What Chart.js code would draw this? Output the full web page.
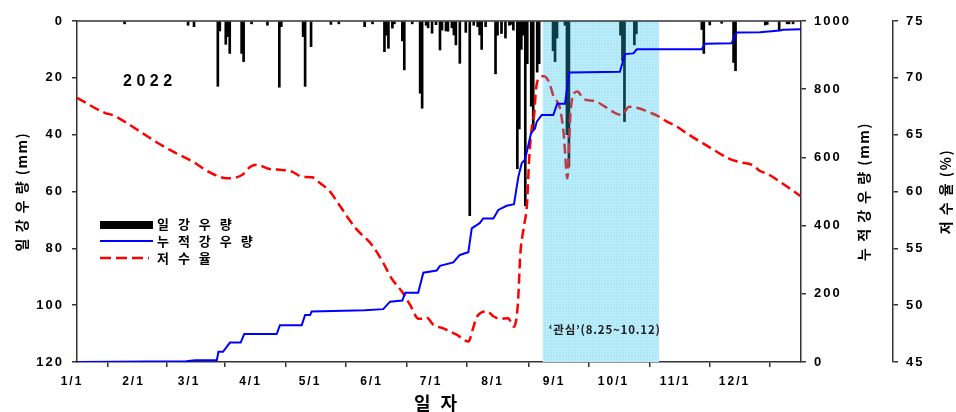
<!DOCTYPE html>
<html>
<head>
<meta charset="utf-8">
<script src="https://cdn.jsdelivr.net/npm/chart.js@4.4.1/dist/chart.umd.min.js"></script>
<style>
  body { margin: 0; background: #fff; }
  #wrap { width: 956px; height: 412px; }
</style>
</head>
<body>
<div id="wrap"><canvas id="rain_chart" width="956" height="412"></canvas></div>
<script>
/* DATA : x = day of year (0 = 1/1) */
const month_days = [0, 31, 59, 90, 120, 151, 181, 212, 243, 273, 304, 334];
const month_labels = ["1/1", "2/1", "3/1", "4/1", "5/1", "6/1", "7/1", "8/1", "9/1", "10/1", "11/1", "12/1"];

// 일 강우량 (mm)
const rain_days = [24, 56, 59, 71, 72, 75, 76, 77, 83, 84, 88, 96, 102, 103, 114, 115, 118, 128, 132, 145,
  149, 155, 156, 157, 159, 160, 164, 165, 169, 173, 174, 176, 177, 179, 181, 183, 184, 186, 187, 189,
  190, 191, 193, 196, 198, 200, 202, 203, 204, 206, 211, 212, 214, 216, 218, 219, 220, 222, 223, 224,
  225, 226, 227, 229, 230, 232, 233, 240, 241, 242, 246, 247, 248, 274, 275, 276, 281, 282, 315, 316,
  319, 325, 331, 332, 347, 348, 354, 358, 359, 361];
const rain_mm = [1.0, 1.5, 2.0, 23.0, 3.5, 8.2, 5.5, 11.4, 11.4, 14.3, 1.0, 1.5, 23.3, 2.0, 5.5, 23.0, 9.0, 1.2, 1.0, 2.0,
  1.0, 10.8, 5.0, 9.6, 2.5, 1.0, 7.0, 17.2, 1.0, 25.4, 30.7, 1.5, 2.4, 4.3, 1.3, 10.2, 3.2, 3.5, 3.6, 2.4,
  4.9, 8.4, 14.9, 4.0, 68.5, 1.5, 2.0, 4.9, 10.0, 2.0, 18.6, 5.0, 4.4, 6.0, 1.5, 1.2, 3.2, 52.0, 38.0, 10.0,
  5.0, 65.0, 15.0, 30.0, 38.0, 18.0, 15.0, 10.5, 14.3, 6.0, 1.5, 40.0, 51.3, 5.0, 14.0, 35.4, 8.4, 4.5, 3.0, 11.4,
  1.4, 0.8, 14.6, 17.5, 1.4, 1.2, 3.2, 1.0, 1.0, 1.0];

// 누적강우량 (mm)
const cum_days = [0, 55, 59.5, 70.5, 71.3, 73.6, 77.1, 82.5, 84.3, 100.7, 102.3, 113.3, 115, 117.5, 118.3, 145, 154.4, 157.8, 164, 165.5,
  172, 174.6, 181.3, 183, 189.7, 193, 197.3, 199, 203, 204.8, 209.9, 212.4, 216.6, 220.3, 222.5, 224.2, 225.9, 228.9, 230.9, 231.8,
  234.3, 240.1, 242.1, 246, 248.2, 273.7, 276.3, 280.5, 282.2, 314.9, 316.6, 330, 332.6, 344.3, 354.4, 356, 365];
const cum_mm = [0, 2, 5, 5, 30, 30, 57, 57, 82, 82, 108, 108, 138, 138, 148, 152, 155, 177, 180, 203,
  203, 262, 268, 282, 292, 314, 322, 392, 407, 421, 421, 446, 458, 463, 543, 583, 594, 671, 685, 705,
  724, 724, 757, 757, 849, 851, 903, 905, 917, 917, 933, 935, 966, 967, 972, 974, 976];

// 저수율 (%)
const res_days = [0, 14.3, 17.6, 31.1, 39.5, 48.5, 59.6, 64.7, 69.7, 75.6, 83.2, 87.4, 90.7, 96.6, 103.3, 108.4, 113.4, 118.5, 122.5, 127.5,
  131.9, 140.3, 148.7, 153.8, 158.8, 163.8, 168, 172.2, 174.7, 176.4, 179.5, 184.7, 191.4, 197.4, 199.4, 201.7, 206.7, 210.1, 213.2, 217.3,
  220.3, 222.3, 223.5, 225.1, 226.9, 228, 229.4, 230.5, 231.4, 233.1, 235.3, 237.8, 240.2, 243.5, 245.4, 247.2, 248.7, 250.4, 252.3, 255.3,
  261.1, 266.3, 271.4, 274.8, 278.3, 283.2, 288.2, 293.3, 297.4, 302.5, 308.4, 316.9, 328.7, 333.7, 340.9, 344.3, 347.6, 354.9, 364.7];
const res_pct = [68.25, 66.9, 66.75, 65.35, 64.4, 63.5, 62.5, 61.9, 61.45, 61.16, 61.45, 62.18, 62.35, 62.0, 61.9, 61.75, 61.3, 61.25, 60.75, 60.0,
  58.9, 56.8, 55.3, 53.9, 52.3, 51.2, 50.0, 48.8, 48.8, 48.9, 48.3, 47.95, 47.4, 46.8, 47.8, 49.0, 49.45, 49.0, 48.8, 48.85,
  48.1, 50.2, 54.5, 56.7, 59.0, 63.0, 65.8, 66.8, 69.0, 70.0, 70.15, 69.7, 68.4, 67.3, 65.0, 61.16, 66.7, 68.6, 68.8, 68.15,
  67.95, 67.45, 66.9, 66.73, 67.45, 67.32, 67.0, 66.6, 66.15, 65.7, 65.0, 64.1, 62.9, 62.6, 62.3, 61.8, 61.6, 60.8, 59.6];

// '관심' 구간
const band_start = 234.8;
const band_end = 293.4;
const band_text = "‘관심’(8.25~10.12)";
const year_text = "2022";

const legend_texts = ["일 강 우 량", "누 적 강 우 량", "저 수 율"];

/* STYLE */
const KR = '"Noto Sans CJK KR", "Noto Sans", sans-serif';
const NUM = '"Liberation Sans", Arial, sans-serif';
const AXIS_COLOR = '#333';

function to_points(xs, ys) {
  return xs.map((v, i) => ({ x: v, y: ys[i] }));
}

function draw_text(ctx, txt, x, y, font, opt = {}) {
  ctx.save();
  ctx.font = font;
  ctx.letterSpacing = (opt.sp || 0) + 'px';
  ctx.fillStyle = opt.color || '#000';
  ctx.textAlign = opt.align || 'left';
  ctx.textBaseline = opt.base || 'middle';
  ctx.translate(x, y);
  if (opt.rot) ctx.rotate(opt.rot);
  ctx.fillText(txt, 0, 0);
  ctx.restore();
}

// fine mesh fill for the band
function mesh_pattern(ctx, base, line) {
  const c = document.createElement('canvas');
  c.width = 3; c.height = 3;
  const g = c.getContext('2d');
  g.fillStyle = base; g.fillRect(0, 0, 3, 3);
  g.fillStyle = line; g.fillRect(0, 0, 3, 1); g.fillRect(0, 0, 1, 3);
  return ctx.createPattern(c, 'repeat');
}

/* PLUGINS */
const spacing_plugin = {
  id: 'spacing_plugin',
  beforeUpdate(chart) { chart.ctx.letterSpacing = '2px'; },
  beforeDraw(chart) { chart.ctx.letterSpacing = '2px'; }
};

const band_plugin = {
  id: 'band_plugin',
  beforeDatasetsDraw(chart) {
    const { ctx, chartArea: a, scales: { x } } = chart;
    const x0 = x.getPixelForValue(band_start), x1 = x.getPixelForValue(band_end);
    ctx.save();
    ctx.fillStyle = mesh_pattern(ctx, '#e8f3fb', '#fcfeff');
    ctx.fillRect(x0, a.top, x1 - x0, a.bottom - a.top);
    ctx.restore();
  },
  afterDatasetDraw(chart, args) {
    // tint the band over rainfall bars and reservoir line (blue line stays on top)
    if (args.index !== 2) return;
    const { ctx, chartArea: a, scales: { x } } = chart;
    const x0 = x.getPixelForValue(band_start), x1 = x.getPixelForValue(band_end);
    ctx.save();
    ctx.fillStyle = 'rgba(40,200,240,0.3)';
    ctx.fillRect(x0, a.top, x1 - x0, a.bottom - a.top);
    ctx.restore();
  }
};

const deco_plugin = {
  id: 'deco_plugin',
  afterDraw(chart) {
    const { ctx, chartArea: a, scales } = chart;
    const mid_y = (a.top + a.bottom) / 2;

    // top frame line
    ctx.save();
    ctx.strokeStyle = AXIS_COLOR;
    ctx.lineWidth = 1.5;
    ctx.beginPath();
    ctx.moveTo(a.left, a.top);
    ctx.lineTo(a.right, a.top);
    ctx.stroke();
    ctx.restore();

    // axis titles
    const title_font = 'bold 14px ' + KR;
    draw_text(ctx, "일 강 우 량 (mm)", 22, mid_y, title_font, { align: 'center', rot: -Math.PI / 2, sp: 1.5 });
    draw_text(ctx, "누 적 강 우 량 (mm)", 864, mid_y, title_font, { align: 'center', rot: -Math.PI / 2, sp: 1.5 });
    draw_text(ctx, "저 수 율 (%)", 946, mid_y, title_font, { align: 'center', rot: -Math.PI / 2, sp: 1.5 });
    draw_text(ctx, "일 자", (a.left + a.right) / 2 - 2, 403, 'bold 18px ' + KR, { align: 'center', sp: 3 });

    // year and band label
    draw_text(ctx, year_text, 123, 86, 'bold 16px ' + NUM, { sp: 4.5, base: 'alphabetic' });
    const bx = scales.x.getPixelForValue(band_start);
    draw_text(ctx, band_text, bx + 6, 330, 'bold 11.5px ' + KR, { color: '#222', sp: 0.8 });

    // legend
    ctx.save();
    ctx.fillStyle = '#000';
    ctx.fillRect(100, 221, 53, 8);
    ctx.lineWidth = 2;
    ctx.strokeStyle = '#0000ff';
    ctx.beginPath(); ctx.moveTo(100, 241); ctx.lineTo(153, 241); ctx.stroke();
    ctx.lineWidth = 2.5;
    ctx.strokeStyle = '#ff0000';
    ctx.setLineDash([11, 5]);
    ctx.beginPath(); ctx.moveTo(100, 258); ctx.lineTo(149, 258); ctx.stroke();
    ctx.restore();
    legend_texts.forEach((t, i) => {
      draw_text(ctx, t, 157, 224 + i * 17, 'bold 13px ' + KR, { sp: 3 });
    });
  }
};

/* CHART SETTING */
const tick_font = { family: NUM, weight: 'bold', size: 13 };
const axis_grid = { drawOnChartArea: false, drawTicks: true, tickLength: 5, color: AXIS_COLOR, lineWidth: 1.5 };
const axis_border = { display: true, color: AXIS_COLOR, width: 1.5 };
const plain_num = (v) => String(v);

const chart_dom = document.getElementById('rain_chart').getContext('2d');

const rainChart = new Chart(chart_dom, {
  type: 'bar',
  data: {
    datasets: [
      { // 일 강우량
        type: 'bar',
        data: to_points(rain_days, rain_mm),
        backgroundColor: '#000',
        borderWidth: 0,
        barThickness: 2,
        yAxisID: 'yRain',
        order: 3
      },
      { // 누적강우량
        type: 'line',
        data: to_points(cum_days, cum_mm),
        borderColor: '#0000ff',
        borderWidth: 2,
        pointRadius: 0,
        tension: 0,
        fill: false,
        yAxisID: 'yCum',
        order: 1
      },
      { // 저수율
        type: 'line',
        data: to_points(res_days, res_pct),
        borderColor: '#ff0000',
        borderWidth: 2.5,
        borderDash: [10, 5],
        pointRadius: 0,
        cubicInterpolationMode: 'monotone',
        fill: false,
        yAxisID: 'yRes',
        order: 2
      }
    ]
  },
  options: {
    responsive: false,
    animation: false,
    devicePixelRatio: 1,
    layout: { padding: { top: 21, left: 0, right: 0, bottom: 0 } },
    plugins: { legend: { display: false }, tooltip: { enabled: false } },
    scales: {
      x: {
        type: 'linear',
        min: 0,
        max: 365,
        offset: false,
        grid: axis_grid,
        border: axis_border,
        afterBuildTicks: (s) => { s.ticks = month_days.map(v => ({ value: v })); },
        afterFit: (s) => { s.height = 50; },
        ticks: {
          autoSkip: false,
          maxRotation: 0,
          padding: 7,
          labelOffset: -5,
          color: '#000',
          font: { family: NUM, weight: 'bold', size: 12 },
          callback: (v, i) => month_labels[i]
        }
      },
      yRain: {
        position: 'left',
        reverse: true,
        min: 0,
        max: 120,
        grid: axis_grid,
        border: axis_border,
        afterFit: (s) => { s.width = 77; },
        ticks: { stepSize: 20, padding: 8, color: '#000', font: tick_font, callback: plain_num }
      },
      yCum: {
        position: 'right',
        min: 0,
        max: 1000,
        grid: axis_grid,
        border: axis_border,
        afterFit: (s) => { s.width = 92; },
        ticks: { stepSize: 200, padding: 8, color: '#000', font: tick_font, callback: plain_num }
      },
      yRes: {
        position: 'right',
        min: 45,
        max: 75,
        grid: axis_grid,
        border: axis_border,
        afterFit: (s) => { s.width = 63; },
        ticks: { stepSize: 5, padding: 8, color: '#000', font: tick_font, callback: plain_num }
      }
    }
  },
  plugins: [spacing_plugin, band_plugin, deco_plugin]
});
</script>
</body>
</html>
